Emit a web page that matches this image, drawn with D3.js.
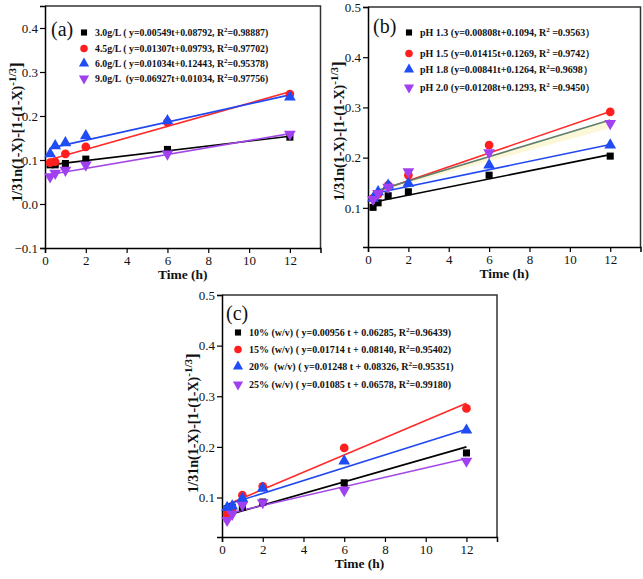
<!DOCTYPE html>
<html>
<head>
<meta charset="utf-8">
<script src="https://cdn.jsdelivr.net/npm/d3@7"></script>
<style>
  body { margin: 0; background: #fff; }
  text { font-family: "Liberation Serif", "Times New Roman", serif; white-space: pre; }
</style>
</head>
<body>
<script>
const width = 643;
const height = 579;

const timeH = [0.25, 0.5, 1, 2, 6, 12];
const fitRange = [0.25, 12];

// panel (a)
const aNames = ["3.0g/L", "4.5g/L", "6.0g/L", "9.0g/L"];
const aEqs = [" ( y=0.00549t+0.08792, R", " ( y=0.01307t+0.09793, R", " ( y=0.01034t+0.12443, R", "  (y=0.06927t+0.01034, R"];
const aR2 = ["=0.98887)", "=0.97702)", "=0.95378)", "=0.97756)"];
const aValues = [
  [0.089, 0.089, 0.092, 0.102, 0.124, 0.152],
  [0.094, 0.096, 0.114, 0.130, 0.186, 0.250],
  [0.114, 0.132, 0.139, 0.155, 0.189, 0.243],
  [0.062, 0.070, 0.077, 0.089, 0.114, 0.159]
];
const aFits = [[0.089, 0.154], [0.101, 0.255], [0.127, 0.248], [0.067, 0.160]];
const aYTicks = [-0.1, 0.0, 0.1, 0.2, 0.3, 0.4];

// panel (b)
const bNames = ["pH 1.3", "pH 1.5", "pH 1.8", "pH 2.0"];
const bEqs = [" (y=0.00808t+0.1094, R", " (y=0.01415t+0.1269, R", " (y=0.00841t+0.1264, R", " (y=0.01208t+0.1293, R"];
const bR2 = [" =0.9563）", " =0.9742）", "=0.9698）", " =0.9450）"];
const bValues = [
  [0.101, 0.110, 0.124, 0.132, 0.165, 0.203],
  [0.119, 0.127, 0.145, 0.165, 0.225, 0.291],
  [0.119, 0.132, 0.145, 0.149, 0.185, 0.225],
  [0.117, 0.129, 0.141, 0.172, 0.210, 0.268]
];
const bFits = [[0.111, 0.206], [0.130, 0.292], [0.128, 0.226], [0.132, 0.275]];
const bBandLow = [0.129, 0.259];
const bYTicks = [0.1, 0.2, 0.3, 0.4, 0.5];

// panel (c)
const cNames = ["10% (w/v)", "15% (w/v)", "20%  (w/v)", "25% (w/v)"];
const cEqs = [" ( y=0.00956 t + 0.06285, R", " ( y=0.01714 t + 0.08140, R", " ( y=0.01248 t + 0.08326, R", " ( y=0.01085 t + 0.06578, R"];
const cR2 = ["=0.96439)", "=0.95402)", "=0.95351)", "=0.99180)"];
const cValues = [
  [0.078, 0.081, 0.081, 0.091, 0.129, 0.188],
  [0.067, 0.078, 0.1045, 0.122, 0.198, 0.276],
  [0.080, 0.083, 0.098, 0.118, 0.172, 0.233],
  [0.055, 0.067, 0.085, 0.090, 0.114, 0.172]
];
const cFits = [[0.065, 0.200], [0.086, 0.286], [0.086, 0.235], [0.068, 0.177]];
const cYTicks = [0.1, 0.2, 0.3, 0.4, 0.5];

const xTicks = [0, 2, 4, 6, 8, 10, 12];

const markColors = ["#000000", "#ff1f1f", "#1f4cf5", "#a040f0"];
const lineColors = ["#000000", "#ff2a2a", "#2148f0", "#a347e6"];
const symbols = [d3.symbolSquare, d3.symbolCircle, d3.symbolTriangle, d3.symbolTriangle];
const symbolSizes = [50, 60, 60, 60];

const svg = d3.select("body")
  .append("svg")
  .attr("width", width)
  .attr("height", height);

function drawPanel(p) {
  const x = d3.scaleLinear().domain([0, 13.5]).range([p.left, p.right]);
  const y = d3.scaleLinear().domain(p.yDomain).range([p.bottom, p.top]);
  const g = svg.append("g");

  // frame top/right
  g.append("path")
    .attr("d", `M${p.left},${p.top}H${p.right}V${p.bottom}`)
    .attr("fill", "none")
    .attr("stroke", "#333")
    .attr("stroke-width", 1.5);

  const yAxis = g.append("g")
    .attr("transform", `translate(${p.left},0)`)
    .call(d3.axisLeft(y).tickValues(p.yTicks).tickSize(5).tickPadding(2).tickFormat(d3.format(".1f")));
  const xAxis = g.append("g")
    .attr("transform", `translate(0,${p.bottom})`)
    .call(d3.axisBottom(x).tickValues(xTicks).tickSize(5).tickPadding(3).tickFormat(d3.format("d")));
  [xAxis, yAxis].forEach(a => {
    a.attr("font-family", null);
    a.select(".domain").attr("stroke", "#000").attr("stroke-width", 1.5);
    a.selectAll(".tick line").attr("stroke", "#000").attr("stroke-width", 1.2);
    a.selectAll(".tick text")
      .attr("fill", "#111")
      .style("font-size", "13px");
  });

  // optional band
  if (p.band) {
    const area = d3.area()
      .x(d => x(d.t))
      .y0(d => y(d.lo))
      .y1(d => y(d.hi));
    g.append("path")
      .attr("d", area(fitRange.map((t, i) => ({t: t, lo: p.band[i], hi: p.fits[3][i]}))))
      .attr("fill", "#fbf7d0")
      .attr("opacity", 0.85);
  }

  // fit lines
  const line = d3.line().x(d => x(d.t)).y(d => y(d.v));
  p.fits.forEach((f, i) => {
    g.append("path")
      .attr("d", line(fitRange.map((t, j) => ({t: t, v: f[j]}))))
      .attr("fill", "none")
      .attr("stroke", p.fitColors[i])
      .attr("stroke-width", 1.6);
  });

  // markers
  p.values.forEach((vals, i) => {
    g.selectAll(null)
      .data(vals)
      .enter()
      .append("path")
      .attr("d", d3.symbol().type(symbols[i]).size(symbolSizes[i]))
      .attr("transform", (d, j) => `translate(${x(timeH[j])},${y(d)})` + (i === 3 ? " rotate(180)" : ""))
      .attr("fill", markColors[i]);
  });

  // panel letter
  g.append("text")
    .text(p.letter)
    .attr("x", p.letterX)
    .attr("y", p.letterY)
    .style("font-size", "20px")
    .attr("fill", "#111");

  // legend
  p.names.forEach((n, i) => {
    const ly = p.legendY[i];
    g.append("path")
      .attr("d", d3.symbol().type(symbols[i]).size(symbolSizes[i] * 0.75))
      .attr("transform", `translate(${p.legendX},${ly - 3.5})` + (i === 3 ? " rotate(180)" : ""))
      .attr("fill", markColors[i]);
    const t = g.append("text")
      .attr("x", p.legendX + 11)
      .attr("y", ly)
      .attr("fill", "#111")
      .style("font-size", p.legendFont)
      .style("font-weight", "bold");
    t.append("tspan").text(n);
    t.append("tspan").text(p.eqs[i]);
    t.append("tspan").text("2").attr("dy", -4).style("font-size", "7px");
    t.append("tspan").text(p.r2[i]).attr("dy", 4);
  });

  // axis titles
  g.append("text")
    .text("Time (h)")
    .attr("x", (x(0) + x(13.5)) / 2)
    .attr("y", p.bottom + 31)
    .attr("text-anchor", "middle")
    .style("font-size", "13.5px")
    .style("font-weight", "bold")
    .attr("fill", "#111");

  const yl = g.append("text")
    .attr("transform", `translate(${p.yLabelX},${p.yLabelY}) rotate(-90)`)
    .attr("text-anchor", "middle")
    .style("font-size", "14px")
    .style("font-weight", "bold")
    .attr("fill", "#111");
  yl.append("tspan").text("1/31n(1-X)-[1-(1-X)");
  yl.append("tspan").text("-1/3").attr("dy", -6).style("font-size", "11px");
  yl.append("tspan").text("]").attr("dy", 6).style("font-size", "17px");
}

drawPanel({
  left: 45, right: 320.5, top: 6, bottom: 248,
  yDomain: [-0.1, 0.45], yTicks: aYTicks,
  values: aValues, fits: aFits, fitColors: lineColors,
  names: aNames, eqs: aEqs, r2: aR2,
  letter: "(a)", letterX: 51, letterY: 36,
  legendX: 84, legendY: [36, 52, 67, 82], legendFont: "9.8px",
  yLabelX: 22, yLabelY: 132
});

drawPanel({
  left: 368, right: 640.5, top: 7, bottom: 247,
  yDomain: [0.022, 0.5], yTicks: bYTicks,
  values: bValues, fits: bFits, fitColors: ["#000000", "#ff2a2a", "#2148f0", "#5f7f6c"],
  band: bBandLow,
  names: bNames, eqs: bEqs, r2: bR2,
  letter: "(b)", letterX: 373, letterY: 33,
  legendX: 409, legendY: [36, 57, 73, 91], legendFont: "10px",
  yLabelX: 344, yLabelY: 131
});

drawPanel({
  left: 222, right: 497, top: 295, bottom: 537,
  yDomain: [0.022, 0.5], yTicks: cYTicks,
  values: cValues, fits: cFits, fitColors: lineColors,
  names: cNames, eqs: cEqs, r2: cR2,
  letter: "(c)", letterX: 226, letterY: 320,
  legendX: 238, legendY: [336, 353, 370, 388], legendFont: "10px",
  yLabelX: 198, yLabelY: 423
});
</script>
</body>
</html>
